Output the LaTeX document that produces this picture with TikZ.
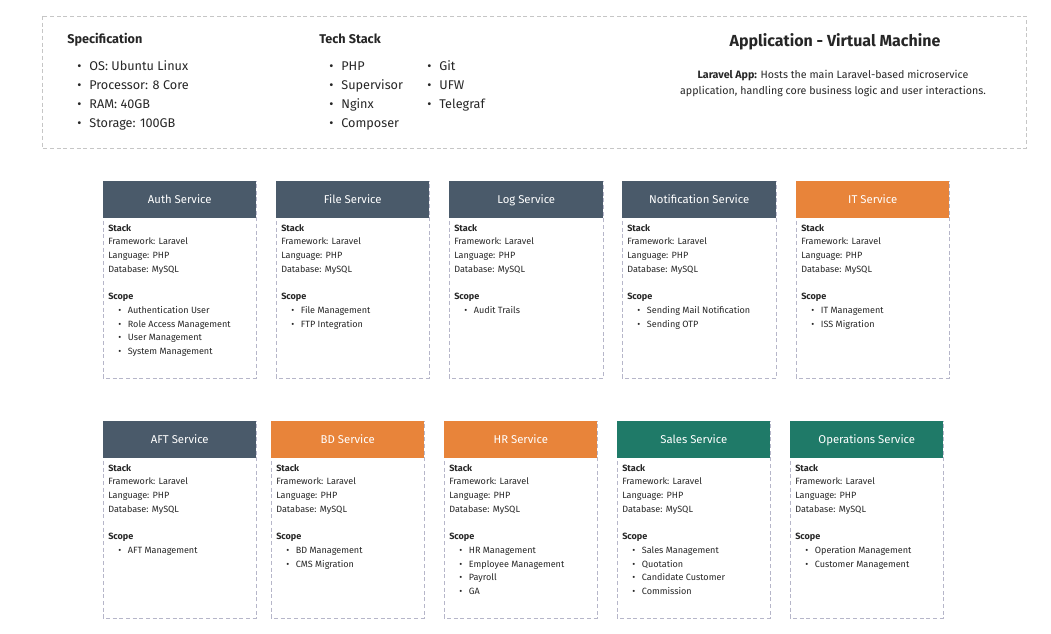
\documentclass[tikz,border=0pt]{standalone}
\usepackage{fontspec}
\setmainfont{Fira Sans}
\begin{document}
\begin{tikzpicture}[x=0.75pt,y=-0.75pt,
  dbox/.style={draw=gray!45,dash pattern=on 3pt off 2pt,line width=0.5pt},
  cbox/.style={draw=blue!15!gray!50,dash pattern=on 3pt off 2pt,line width=0.5pt},
  hdr/.style={anchor=north west,minimum width=#1,minimum height=27.75pt,inner sep=0pt,text height=6pt,text depth=0pt,text=white,font=\fontsize{8.5}{10}\selectfont},
  txt/.style={anchor=base west,inner sep=0pt,font=\fontsize{6.8}{8}\selectfont,text=black!85},
  big/.style={anchor=base west,inner sep=0pt,font=\fontsize{9.5}{11}\selectfont,text=black!85}]
\definecolor{slate}{HTML}{4A5A6A}\definecolor{org}{HTML}{E8843A}\definecolor{teal}{HTML}{1F7A68}
\useasboundingbox (0,0) rectangle (1051,634);
\draw[dbox] (42,16) rectangle (1026,148);
\node[big,font=\bfseries\fontsize{9.5}{11}\selectfont] (sp) at (67,44) {Specification};
\foreach \t [count=\i] in {OS: Ubuntu Linux,Processor: 8 Core,RAM: 40GB,Storage: 100GB}
  \node[big] (s\i) at (77,52+19*\i) {\textbullet\hspace{6pt}\t};
\node[big,font=\bfseries\fontsize{9.5}{11}\selectfont] (ts) at (319,44) {Tech Stack};
\foreach \t [count=\i] in {PHP,Supervisor,Nginx,Composer}
  \node[big] (t\i) at (329,52+19*\i) {\textbullet\hspace{6pt}\t};
\foreach \t [count=\i] in {Git,UFW,Telegraf}
  \node[big] (u\i) at (427,52+19*\i) {\textbullet\hspace{6pt}\t};
\node[inner sep=0pt,font=\bfseries\fontsize{12}{14}\selectfont,text=black!85] (ti) at (835,42) {Application - Virtual Machine};
\node[inner sep=0pt,align=center,font=\fontsize{8}{12}\selectfont,text=black!85] (de) at (833,83) {\textbf{Laravel App:} Hosts the main Laravel-based microservice\\application, handling core business logic and user interactions.};
\newcommand\card[7]{%
  \draw[cbox] (#1,#2) rectangle (#1+#3,#2+197);
  \node[hdr=#3*0.75pt,fill=#4] (#6) at (#1,#2) {#5};
  \node[txt,font=\bfseries\fontsize{6.8}{8}\selectfont] (#6s) at (#1+5,#2+51) {Stack};
  \node[txt] (#6a) at (#1+5,#2+64) {Framework: Laravel};
  \node[txt] (#6b) at (#1+5,#2+78) {Language: PHP};
  \node[txt] (#6c) at (#1+5,#2+92) {Database: MySQL};
  \node[txt,font=\bfseries\fontsize{6.8}{8}\selectfont] (#6d) at (#1+5,#2+119) {Scope};
  \foreach \q [count=\j] in {#7} \node[txt] (#6q\j) at (#1+15,#2+118.5+13.8*\j) {\textbullet\hspace{5pt}\q};
}
\card{103}{181}{153}{slate}{Auth Service}{c1}{Authentication User,Role Access Management,User Management,System Management}
\card{276}{181}{153}{slate}{File Service}{c2}{File Management,FTP Integration}
\card{449}{181}{154}{slate}{Log Service}{c3}{Audit Trails}
\card{622}{181}{154}{slate}{Notification Service}{c4}{Sending Mail Notification,Sending OTP}
\card{796}{181}{153}{org}{IT Service}{c5}{IT Management,ISS Migration}
\card{103}{421}{153}{slate}{AFT Service}{d1}{AFT Management}
\card{271}{421}{153}{org}{BD Service}{d2}{BD Management,CMS Migration}
\card{444}{421}{153}{org}{HR Service}{d3}{HR Management,Employee Management,Payroll,GA}
\card{617}{421}{153}{teal}{Sales Service}{d4}{Sales Management,Quotation,Candidate Customer,Commission}
\card{790}{421}{153}{teal}{Operations Service}{d5}{Operation Management,Customer Management}
\end{tikzpicture}
\end{document}
